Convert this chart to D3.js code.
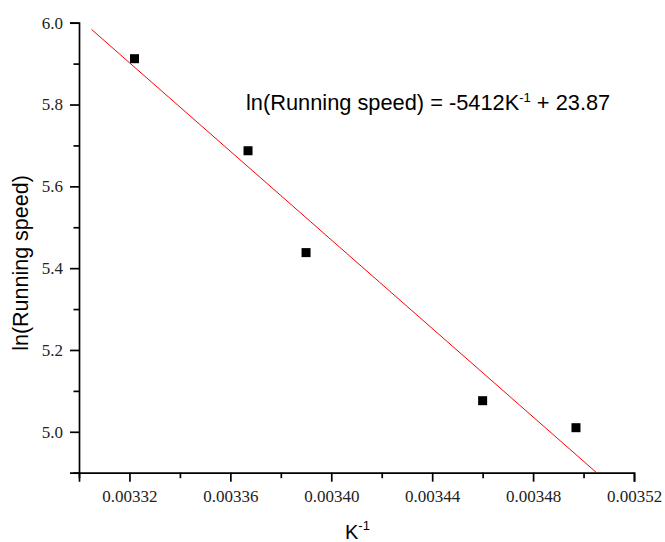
<!DOCTYPE html>
<html>
<head>
<meta charset="utf-8">
<script src="https://d3js.org/d3.v7.min.js"></script>
<style>
  body { margin: 0; background: #fff; }
  .tick text { font-family: "Liberation Serif", "Times New Roman", serif; font-size: 17px; }
  .title { font-family: "Liberation Sans", Arial, sans-serif; fill: #000; }
</style>
</head>
<body>
<div id="chart"></div>
<script>
// measured points
var kInv = [0.003322, 0.003367, 0.003390, 0.003460, 0.003497];
var lnSpeed = [5.912, 5.687, 5.438, 5.076, 5.010];

// linear fit shown on the plot
var fitSlope = -5412,
    fitIntercept = 23.87,
    fitRange = [0.003305, 0.003505];

var xMajor = [0.00332, 0.00336, 0.00340, 0.00344, 0.00348, 0.00352],
    xMinor = [0.00330, 0.00334, 0.00338, 0.00342, 0.00346, 0.00350],
    xTickLabels = ["0.00332", "0.00336", "0.00340", "0.00344", "0.00348", "0.00352"];
var yMajor = [5.0, 5.2, 5.4, 5.6, 5.8, 6.0],
    yMinor = [4.9, 5.1, 5.3, 5.5, 5.7, 5.9],
    yTickLabels = ["5.0", "5.2", "5.4", "5.6", "5.8", "6.0"];

var width = 665, height = 542,
    plotLeft = 79, plotRight = 634, plotTop = 22.7, plotBottom = 472.7,
    markerSize = 9;

var svg = d3.select("#chart").append("svg")
    .attr("width", width)
    .attr("height", height);

var x = d3.scaleLinear().domain([0.00330, 0.00352]).range([plotLeft, plotRight]);
var y = d3.scaleLinear().domain([4.9, 6.0]).range([plotBottom, plotTop]);

// x axis: major with labels, then minor ticks
svg.append("g")
    .attr("transform", "translate(0," + plotBottom + ")")
    .call(d3.axisBottom(x).tickValues(xMajor).tickSize(9).tickPadding(8)
        .tickFormat(function(d, i) { return xTickLabels[i]; }));
svg.append("g")
    .attr("transform", "translate(0," + plotBottom + ")")
    .call(d3.axisBottom(x).tickValues(xMinor).tickSize(5.5).tickFormat(""))
    .select(".domain").remove();

svg.append("g")
    .attr("transform", "translate(" + plotLeft + ",0)")
    .call(d3.axisLeft(y).tickValues(yMajor).tickSize(9).tickPadding(7)
        .tickFormat(function(d, i) { return yTickLabels[i]; }));
svg.append("g")
    .attr("transform", "translate(" + plotLeft + ",0)")
    .call(d3.axisLeft(y).tickValues(yMinor).tickSize(5.5).tickFormat(""))
    .select(".domain").remove();

svg.selectAll(".domain").attr("stroke", "#000").attr("stroke-width", 1.7);
svg.selectAll(".tick line").attr("stroke", "#000").attr("stroke-width", 1.7);
svg.selectAll(".tick text").attr("fill", "#222");

// fit line
svg.append("line")
    .attr("x1", x(fitRange[0]))
    .attr("y1", y(fitSlope * fitRange[0] + fitIntercept))
    .attr("x2", x(fitRange[1]))
    .attr("y2", y(fitSlope * fitRange[1] + fitIntercept))
    .attr("stroke", "#ff0000")
    .attr("stroke-width", 1);

// points
svg.selectAll(".pt")
    .data(kInv)
    .enter().append("rect")
    .attr("class", "pt")
    .attr("x", function(d) { return x(d) - markerSize / 2; })
    .attr("y", function(d, i) { return y(lnSpeed[i]) - markerSize / 2; })
    .attr("width", markerSize)
    .attr("height", markerSize)
    .attr("fill", "#000");

// equation
var eq = svg.append("text")
    .attr("class", "title")
    .attr("x", 246)
    .attr("y", 110)
    .style("font-size", "21.8px");
eq.append("tspan").text("ln(Running speed) = -5412K");
eq.append("tspan").attr("dy", -8).style("font-size", "13px").text("-1");
eq.append("tspan").attr("dy", 8).text(" + 23.87");

// axis titles
var xt = svg.append("text")
    .attr("class", "title")
    .attr("x", 345)
    .attr("y", 539)
    .style("font-size", "20px");
xt.append("tspan").text("K");
xt.append("tspan").attr("dy", -9).style("font-size", "13px").text("-1");

svg.append("text")
    .attr("class", "title")
    .attr("transform", "translate(28," + 263 + ") rotate(-90)")
    .attr("text-anchor", "middle")
    .style("font-size", "21.5px")
    .text("ln(Running speed)");
</script>
</body>
</html>
